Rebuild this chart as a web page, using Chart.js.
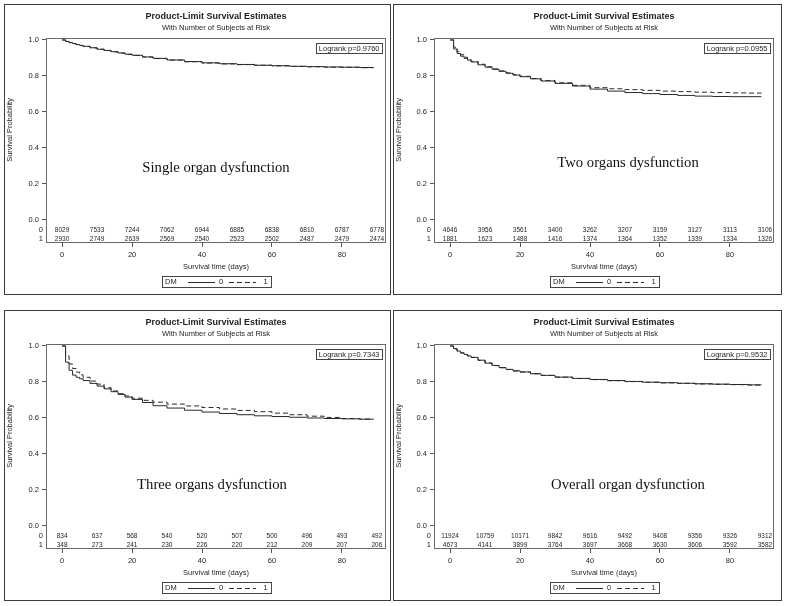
<!DOCTYPE html>
<html>
<head>
<meta charset="utf-8">
<script src="https://cdn.jsdelivr.net/npm/chart.js@4.4.0/dist/chart.umd.min.js"></script>
<style>
  html, body { margin: 0; padding: 0; background: #fff; }
  body { width: 786px; height: 606px; position: relative; overflow: hidden; }
  canvas { position: absolute; display: block; }
</style>
</head>
<body>
<canvas id="c1" width="387" height="291" style="left:4px;top:4px"></canvas>
<canvas id="c2" width="389" height="291" style="left:393px;top:4px"></canvas>
<canvas id="c3" width="387" height="291" style="left:4px;top:310px"></canvas>
<canvas id="c4" width="389" height="291" style="left:393px;top:310px"></canvas>
<script>
// ── Data ─────────────────────────────────────────────────────
const times = [0, 1, 2, 3, 4, 5, 6, 8, 10, 12, 14, 16, 18, 20, 23, 26, 30, 35, 40, 45, 50, 55, 60, 65, 70, 75, 80, 85, 89];
const riskTimes = [0, 10, 20, 30, 40, 50, 60, 70, 80, 90];
const xTicks = [0, 20, 40, 60, 80];
const yTicks = [0, 0.2, 0.4, 0.6, 0.8, 1.0];

const panelLabels = ['Single organ dysfunction', 'Two organs dysfunction', 'Three organs dysfunction', 'Overall organ dysfunction'];
const logrankP = ['0.9760', '0.0955', '0.7343', '0.9532'];

// survival estimates, DM = 0 (solid) / DM = 1 (dashed)
const singleDm0 = [1.0, 0.992, 0.986, 0.980, 0.975, 0.970, 0.965, 0.957, 0.949, 0.942, 0.935, 0.928, 0.921, 0.915, 0.906, 0.898, 0.889, 0.880, 0.873, 0.868, 0.864, 0.860, 0.857, 0.854, 0.852, 0.850, 0.849, 0.847, 0.846];
const singleDm1 = [1.0, 0.991, 0.985, 0.979, 0.974, 0.969, 0.964, 0.956, 0.948, 0.941, 0.934, 0.927, 0.920, 0.914, 0.905, 0.897, 0.888, 0.879, 0.872, 0.867, 0.863, 0.859, 0.856, 0.853, 0.851, 0.849, 0.848, 0.846, 0.845];
const twoDm0 = [1.0, 0.950, 0.925, 0.910, 0.898, 0.888, 0.878, 0.862, 0.849, 0.837, 0.826, 0.815, 0.805, 0.796, 0.784, 0.772, 0.759, 0.744, 0.727, 0.716, 0.708, 0.702, 0.697, 0.692, 0.688, 0.686, 0.685, 0.685, 0.685];
const twoDm1 = [1.0, 0.960, 0.935, 0.918, 0.904, 0.892, 0.881, 0.865, 0.851, 0.839, 0.828, 0.817, 0.807, 0.798, 0.786, 0.775, 0.762, 0.748, 0.735, 0.729, 0.724, 0.720, 0.716, 0.713, 0.710, 0.708, 0.706, 0.705, 0.704];
const threeDm0 = [1.0, 0.910, 0.865, 0.838, 0.826, 0.818, 0.808, 0.792, 0.777, 0.762, 0.746, 0.731, 0.716, 0.703, 0.686, 0.668, 0.655, 0.643, 0.633, 0.625, 0.618, 0.612, 0.608, 0.604, 0.600, 0.597, 0.595, 0.593, 0.593];
const threeDm1 = [1.0, 0.945, 0.900, 0.875, 0.855, 0.840, 0.826, 0.805, 0.788, 0.768, 0.750, 0.735, 0.722, 0.710, 0.698, 0.688, 0.677, 0.667, 0.658, 0.650, 0.642, 0.635, 0.627, 0.618, 0.610, 0.603, 0.597, 0.594, 0.593];
const overallDm0 = [1.0, 0.985, 0.972, 0.962, 0.953, 0.945, 0.937, 0.921, 0.905, 0.892, 0.880, 0.870, 0.862, 0.856, 0.846, 0.837, 0.827, 0.820, 0.814, 0.808, 0.803, 0.799, 0.796, 0.793, 0.790, 0.788, 0.786, 0.784, 0.782];
const overallDm1 = [1.0, 0.984, 0.971, 0.961, 0.952, 0.944, 0.936, 0.920, 0.905, 0.891, 0.879, 0.869, 0.861, 0.855, 0.845, 0.836, 0.827, 0.819, 0.813, 0.807, 0.802, 0.798, 0.795, 0.792, 0.789, 0.787, 0.785, 0.783, 0.782];

// number of subjects at risk
const singleRisk0 = [8029, 7533, 7244, 7062, 6944, 6885, 6838, 6810, 6787, 6778];
const singleRisk1 = [2930, 2749, 2639, 2569, 2540, 2523, 2502, 2487, 2479, 2474];
const twoRisk0 = [4646, 3956, 3561, 3400, 3262, 3207, 3159, 3127, 3113, 3106];
const twoRisk1 = [1881, 1623, 1488, 1416, 1374, 1364, 1352, 1339, 1334, 1326];
const threeRisk0 = [834, 637, 568, 540, 520, 507, 500, 496, 493, 492];
const threeRisk1 = [348, 273, 241, 230, 226, 220, 212, 209, 207, 206];
const overallRisk0 = [11924, 10759, 10171, 9842, 9616, 9492, 9408, 9356, 9326, 9312];
const overallRisk1 = [4673, 4141, 3899, 3764, 3697, 3668, 3630, 3606, 3592, 3582];

// ── Style ────────────────────────────────────────────────────
const SANS = '"Liberation Sans", Arial, sans-serif';
const SERIF = '"Liberation Serif", "Times New Roman", serif';
const INK = '#1e1e1e';
const LINE = '#2a2a2a';

// ── Extra drawing: titles, frame, at-risk table, legend ──────
const kmExtras = {
  id: 'kmExtras',
  afterDraw(chart, args, o) {
    const { ctx, chartArea: a, scales: { x, y } } = chart;
    const cx = (a.left + a.right) / 2;
    ctx.save();

    // outer frame and plot frame
    ctx.lineWidth = 1;
    ctx.strokeStyle = '#3c3c3c';
    ctx.strokeRect(0.5, 0.5, chart.width - 1, chart.height - 1);
    ctx.strokeStyle = '#6a6a6a';
    ctx.strokeRect(Math.round(a.left) + 0.5, Math.round(a.top) + 0.5,
      Math.round(a.right - a.left) - 1, Math.round(a.bottom - a.top) - 1);

    ctx.fillStyle = INK;
    ctx.textAlign = 'center';
    ctx.textBaseline = 'middle';
    ctx.font = 'bold 9px ' + SANS;
    ctx.fillText('Product-Limit Survival Estimates', cx, 13);
    ctx.font = '7.5px ' + SANS;
    ctx.fillText('With Number of Subjects at Risk', cx, 24);

    // y title
    ctx.save();
    ctx.translate(5.5, (y.getPixelForValue(0) + y.getPixelForValue(1)) / 2);
    ctx.rotate(-Math.PI / 2);
    ctx.fillText('Survival Probability', 0, 0);
    ctx.restore();

    // x title
    ctx.fillText('Survival time (days)', cx, a.bottom + 24);

    // logrank box
    const lt = 'Logrank p=' + o.p;
    const lw = ctx.measureText(lt).width + 5;
    const lx = a.right - 4 - lw, ly = a.top + 5;
    ctx.strokeStyle = '#444';
    ctx.strokeRect(Math.round(lx) + 0.5, ly + 0.5, Math.round(lw), 10);
    ctx.textAlign = 'left';
    ctx.fillText(lt, lx + 2.5, ly + 5.5);

    // at-risk table
    const y0 = y.getPixelForValue(0);
    ctx.textAlign = 'right';
    ctx.fillText('0', a.left - 3, y0 + 10);
    ctx.fillText('1', a.left - 3, y0 + 19);
    ctx.textAlign = 'center';
    ctx.font = '6.5px ' + SANS;
    riskTimes.forEach((t, i) => {
      const px = x.getPixelForValue(t);
      ctx.fillText(String(o.risk0[i]), px, y0 + 10);
      ctx.fillText(String(o.risk1[i]), px, y0 + 19);
    });

    // panel label
    ctx.font = '14.7px ' + SERIF;
    ctx.fillStyle = '#111';
    ctx.fillText(o.label, o.labelX, o.labelY);

    // legend box
    const bw = 109, bh = 11;
    const bx = Math.round(cx - bw / 2), by = Math.round(a.bottom + 33);
    ctx.strokeStyle = '#444';
    ctx.strokeRect(bx + 0.5, by + 0.5, bw, bh);
    const my = by + 6;
    ctx.fillStyle = INK;
    ctx.font = '7.5px ' + SANS;
    ctx.textAlign = 'left';
    ctx.fillText('DM', bx + 3, my);
    ctx.textAlign = 'center';
    ctx.fillText('0', bx + 59, my);
    ctx.fillText('1', bx + 103.5, my);
    ctx.strokeStyle = LINE;
    ctx.beginPath();
    ctx.moveTo(bx + 26, my + 0.5); ctx.lineTo(bx + 53, my + 0.5);
    ctx.stroke();
    ctx.setLineDash([5, 3]);
    ctx.beginPath();
    ctx.moveTo(bx + 67, my + 0.5); ctx.lineTo(bx + 94, my + 0.5);
    ctx.stroke();
    ctx.restore();
  }
};

function toPoints(ts, vs) {
  return vs.map((v, i) => ({ x: ts[i], y: v }));
}

function makeChart(id, cfg) {
  const tickFont = { family: SANS, size: 7.5 };
  return new Chart(document.getElementById(id), {
    type: 'line',
    data: {
      datasets: [
        { label: '0', data: toPoints(times, cfg.dm0), borderColor: LINE, borderWidth: 1, stepped: true, pointRadius: 0, fill: false },
        { label: '1', data: toPoints(times, cfg.dm1), borderColor: LINE, borderWidth: 1, borderDash: [5, 3], stepped: true, pointRadius: 0, fill: false },
      ]
    },
    options: {
      responsive: false,
      animation: false,
      events: [],
      layout: { autoPadding: false, padding: { left: 0, top: 34, right: cfg.padRight, bottom: 0 } },
      plugins: {
        legend: { display: false },
        tooltip: { enabled: false },
        kmExtras: { p: cfg.p, label: cfg.label, labelX: cfg.labelX, labelY: cfg.labelY, risk0: cfg.risk0, risk1: cfg.risk1 },
      },
      scales: {
        x: {
          type: 'linear', min: -4.6, max: 92.6,
          afterBuildTicks: s => { s.ticks = xTicks.map(v => ({ value: v })); },
          afterFit: s => { s.height = 52; },
          border: { display: false },
          grid: { drawOnChartArea: false, drawTicks: true, tickLength: 4, color: '#555' },
          ticks: { font: tickFont, color: INK, padding: 3, maxRotation: 0 },
        },
        y: {
          type: 'linear', min: -0.128, max: 1.011,
          afterBuildTicks: s => { s.ticks = yTicks.map(v => ({ value: v })); },
          afterFit: s => { s.width = cfg.axisW; },
          border: { display: false },
          grid: { drawOnChartArea: false, drawTicks: true, tickLength: 4, color: '#555' },
          ticks: { font: tickFont, color: INK, padding: 3, callback: v => Number(v).toFixed(1) },
        }
      }
    },
    plugins: [kmExtras]
  });
}

makeChart('c1', { dm0: singleDm0, dm1: singleDm1, risk0: singleRisk0, risk1: singleRisk1, p: logrankP[0], label: panelLabels[0], labelX: 212, labelY: 164, axisW: 42, padRight: 5 });
makeChart('c2', { dm0: twoDm0, dm1: twoDm1, risk0: twoRisk0, risk1: twoRisk1, p: logrankP[1], label: panelLabels[1], labelX: 235, labelY: 159, axisW: 41, padRight: 8 });
makeChart('c3', { dm0: threeDm0, dm1: threeDm1, risk0: threeRisk0, risk1: threeRisk1, p: logrankP[2], label: panelLabels[2], labelX: 208, labelY: 175, axisW: 42, padRight: 5 });
makeChart('c4', { dm0: overallDm0, dm1: overallDm1, risk0: overallRisk0, risk1: overallRisk1, p: logrankP[3], label: panelLabels[3], labelX: 235, labelY: 175, axisW: 41, padRight: 8 });
</script>
</body>
</html>
